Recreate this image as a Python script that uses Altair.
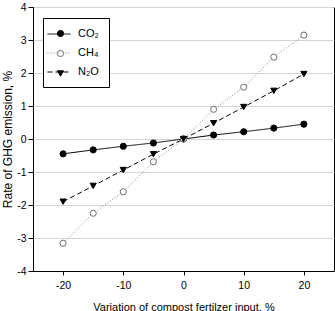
import altair as alt
import pandas as pd

x_vals = [-20, -15, -10, -5, 0, 5, 10, 15, 20]
co2 = [-0.45, -0.33, -0.22, -0.12, 0.0, 0.12, 0.22, 0.33, 0.45]
ch4 = [-3.16, -2.25, -1.60, -0.69, 0.0, 0.90, 1.57, 2.48, 3.15]
n2o = [-1.90, -1.42, -0.94, -0.46, 0.0, 0.48, 0.97, 1.46, 1.97]
series = ["CO₂", "CH₄", "N₂O"]
y_ticks = [-4, -3, -2, -1, 0, 1, 2, 3, 4]
x_ticks = [-20, -10, 0, 10, 20]

rows = []
for name, vals in zip(series, [co2, ch4, n2o]):
    for xv, yv in zip(x_vals, vals):
        rows.append({"x": xv, "y": yv, "gas": name, "gas2": name})
df = pd.DataFrame(rows)

FONT = "Liberation Sans, Arial"

x_axis = alt.Axis(values=x_ticks, grid=False, tickSize=4, labelPadding=5,
                  labelFont=FONT, labelFontSize=10.5, labelColor="black",
                  labelExpr="'' + datum.value", labelOverlap=False,
                  domainColor="black", tickColor="black",
                  title="Variation of compost fertilzer input, %",
                  titleFont=FONT, titleFontSize=11, titleFontWeight="normal",
                  titleColor="black", titleY=30)
y_axis = alt.Axis(values=y_ticks, grid=True, gridColor="#d4d4d4", tickSize=5,
                  labelPadding=2, labelFont=FONT, labelFontSize=10.5,
                  labelExpr="'' + datum.value", labelOverlap=False,
                  labelColor="black", domainColor="black", tickColor="black",
                  title="Rate of GHG emission, %", titleFont=FONT,
                  titleFontSize=12, titleFontWeight="normal",
                  titleColor="black", titleX=-19)
x_scale = alt.Scale(domain=[-25, 25], nice=False, zero=False)
y_scale = alt.Scale(domain=[-4, 4], nice=False)

line_legend = alt.Legend(
    title=None, orient="none", legendX=10, legendY=11,
    symbolType="M-2.1,0H2.1", symbolSize=121, symbolStrokeWidth=1,
    symbolStrokeColor={"expr": "datum.value === 'CH₄' ? '#808080' : 'black'"},
    symbolFillColor="transparent",
    padding=10, rowPadding=8, labelOffset=13, labelFont=FONT,
    labelFontSize=11, labelColor="black", strokeColor="black",
    fillColor="white", cornerRadius=0,
)
pt_legend = alt.Legend(
    title=None, orient="none", legendX=12, legendY=11,
    symbolSize=38, symbolStrokeWidth=1, symbolOpacity=1,
    symbolStrokeColor={"expr": "datum.value === 'CH₄' ? '#707070' : 'black'"},
    symbolFillColor={"expr": "datum.value === 'CH₄' ? 'white' : 'black'"},
    padding=10, rowPadding=8, labelOffset=13, labelFont=FONT,
    labelFontSize=11, labelColor="transparent",
)

lines = alt.Chart(df).mark_line(strokeWidth=1).encode(
    x=alt.X("x:Q", scale=x_scale, axis=x_axis),
    y=alt.Y("y:Q", scale=y_scale, axis=y_axis),
    color=alt.Color("gas:N", sort=series,
                    scale=alt.Scale(range=["black", "#808080", "black"]), legend=None),
    strokeDash=alt.StrokeDash("gas:N", sort=series,
                              scale=alt.Scale(range=[[1, 0], [1, 2], [5, 3]]), legend=line_legend),
)

points = alt.Chart(df).mark_point(strokeWidth=1, opacity=1, size=38).encode(
    x=alt.X("x:Q", scale=x_scale, axis=x_axis),
    y=alt.Y("y:Q", scale=y_scale, axis=y_axis),
    fill=alt.Fill("gas2:N", sort=series,
                  scale=alt.Scale(range=["black", "white", "black"]), legend=None),
    stroke=alt.Stroke("gas2:N", sort=series,
                      scale=alt.Scale(range=["black", "#707070", "black"]), legend=None),
    shape=alt.Shape("gas2:N", sort=series,
                    scale=alt.Scale(range=["circle", "circle", "triangle-down"]), legend=pt_legend),
)

chart = alt.layer(lines, points).properties(
    width=301, height=264, autosize="none",
    padding={"left": 33, "top": 7, "right": 1, "bottom": 40},
    background="white",
).configure_view(stroke="black", strokeWidth=1)

chart.save("out.html", embed_options={"renderer": "svg", "actions": False})
